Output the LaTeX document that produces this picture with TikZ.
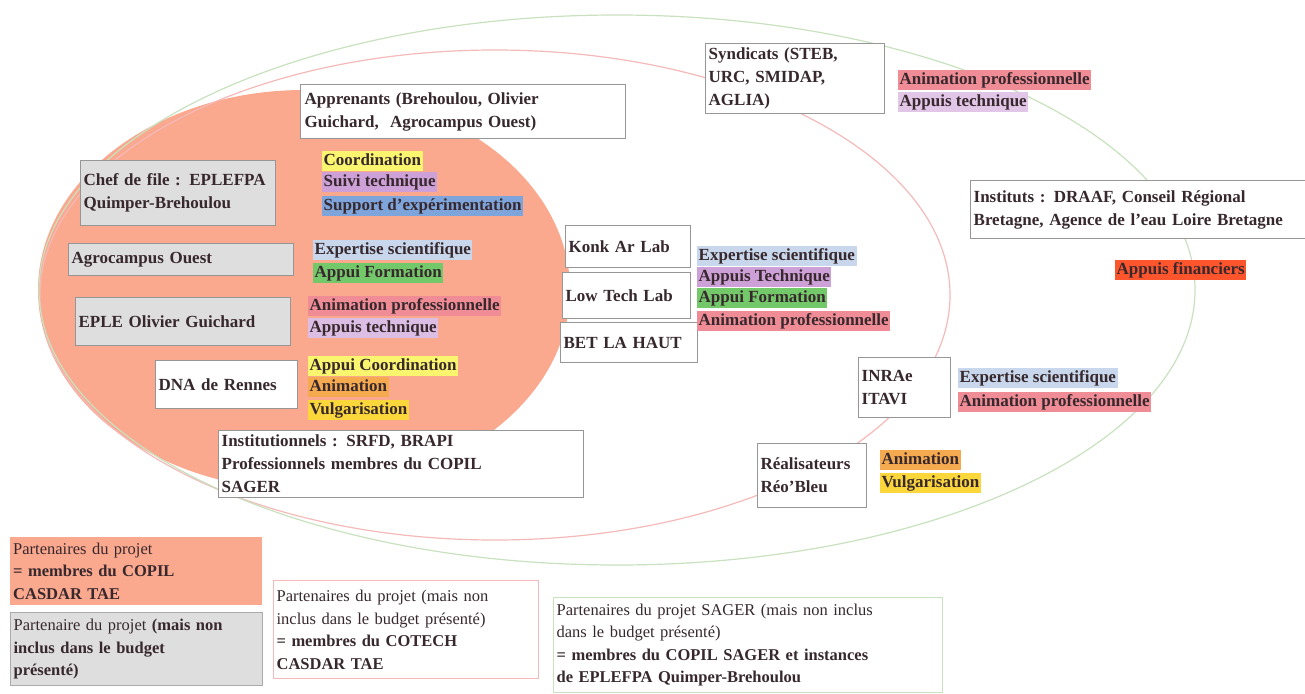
\documentclass[tikz,border=0pt]{standalone}
\usepackage{fontspec}
\setmainfont{Liberation Serif}
\newcommand\fsz{\fontsize{17}{23}\selectfont}
\newcommand\lfsz{\fontsize{16.5}{22.5}\selectfont}
\definecolor{salmon}{RGB}{250,168,142}
\definecolor{boxgray}{RGB}{222,222,222}
\definecolor{edgegray}{RGB}{150,150,150}
\definecolor{hlyellow}{RGB}{250,245,110}
\definecolor{hlpurple}{RGB}{205,160,215}
\definecolor{hlblue}{RGB}{125,165,220}
\definecolor{hllight}{RGB}{200,215,235}
\definecolor{hlgreen}{RGB}{115,200,105}
\definecolor{hlpink}{RGB}{240,140,150}
\definecolor{hlorange}{RGB}{245,170,80}
\definecolor{hlgold}{RGB}{252,215,60}
\definecolor{hlred}{RGB}{255,85,45}
\definecolor{txt}{RGB}{55,40,45}
\definecolor{ringpink}{RGB}{245,185,185}
\definecolor{ringgreen}{RGB}{200,225,190}
\tikzset{
  box/.style={draw=edgegray, line width=1.3pt, align=left, font=\fsz\bfseries, text=txt,
    inner xsep=3pt, inner ysep=2pt, anchor=north west},
  graybox/.style={box, fill=boxgray},
  whitebox/.style={box, fill=white},
  lab/.style={anchor=west, inner xsep=1.5pt, inner ysep=0pt, minimum height=20pt,
    font=\fsz\bfseries, text=txt, text height=12pt, text depth=3.5pt},
  legend/.style={align=left, text=txt, font=\lfsz, inner xsep=3pt, inner ysep=3pt, anchor=north west}
}
\begin{document}
\begin{tikzpicture}[x=1pt,y=-1pt]
\useasboundingbox (0,0) rectangle (1305,693);
% ellipses
\fill[salmon] (304,290) ellipse [x radius=266pt, y radius=200pt];
\draw[ringpink, line width=1.2pt] (495,295) ellipse [x radius=455pt, y radius=245pt];
\draw[ringgreen, line width=1.2pt] (617,290) ellipse [x radius=578pt, y radius=275pt];

% top box
\node[whitebox, minimum width=325pt, minimum height=54pt, text width=317pt] (appr) at (300,84)
  {Apprenants (Brehoulou, Olivier\\Guichard,~ Agrocampus Ouest)};

% chef de file
\node[graybox, minimum width=195pt, minimum height=65pt, text width=189pt] (chef) at (80,160)
  {Chef de file : EPLEFPA\\Quimper-Brehoulou};
\node[lab, fill=hlyellow] (l1) at (322,161) {Coordination};
\node[lab, fill=hlpurple] (l2) at (322,182) {Suivi technique};
\node[lab, fill=hlblue] (l3) at (322,206) {Support d'expérimentation};

% agrocampus
\node[graybox, minimum width=225pt, minimum height=32pt, text width=219pt] (agro) at (68,243)
  {Agrocampus Ouest};
\node[lab, fill=hllight] (l4) at (313,250) {Expertise scientifique};
\node[lab, fill=hlgreen] (l5) at (313,273) {Appui Formation};

% EPLE
\node[graybox, minimum width=215pt, minimum height=48pt, text width=209pt] (eple) at (75,297)
  {EPLE Olivier Guichard};
\node[lab, fill=hlpink] (l6) at (308,306) {Animation professionnelle};
\node[lab, fill=hlpurple!70] (l7) at (308,328) {Appuis technique};

% DNA
\node[whitebox, minimum width=142pt, minimum height=48pt, text width=136pt] (dna) at (155,360)
  {DNA de Rennes};
\node[lab, fill=hlyellow] (l8) at (308,366) {Appui Coordination};
\node[lab, fill=hlorange] (l9) at (308,387) {Animation};
\node[lab, fill=hlgold] (l10) at (308,410) {Vulgarisation};

% institutionnels
\node[whitebox, minimum width=365pt, minimum height=67pt, text width=359pt] (inst) at (218,430)
  {Institutionnels : SRFD, BRAPI\\Professionnels membres du COPIL\\SAGER};

% middle labs
\node[whitebox, minimum width=125pt, minimum height=42pt, text width=119pt] (konk) at (565,225)
  {Konk Ar Lab};
\node[whitebox, minimum width=128pt, minimum height=46pt, text width=122pt] (low) at (562,272)
  {Low Tech Lab};
\node[whitebox, minimum width=137pt, minimum height=40pt, text width=131pt] (bet) at (560,322)
  {BET LA HAUT};
\node[lab, fill=hllight] (l11) at (697,256) {Expertise scientifique};
\node[lab, fill=hlpurple] (l12) at (697,277) {Appuis Technique};
\node[lab, fill=hlgreen] (l13) at (697,298) {Appui Formation};
\node[lab, fill=hlpink] (l14) at (697,321) {Animation professionnelle};

% syndicats
\node[whitebox, minimum width=179pt, minimum height=70pt, text width=173pt] (synd) at (705,43)
  {Syndicats (STEB,\\URC, SMIDAP,\\AGLIA)};
\node[lab, fill=hlpink] (l15) at (898,80) {Animation professionnelle};
\node[lab, fill=hlpurple!60] (l16) at (898,102) {Appuis technique};

% instituts
\node[whitebox, minimum width=335pt, minimum height=58pt, text width=329pt] (instit) at (970,180)
  {Instituts : DRAAF, Conseil Régional\\Bretagne, Agence de l'eau Loire Bretagne};
\node[lab, fill=hlred] (l17) at (1115,270) {Appuis financiers};

% INRAe
\node[whitebox, minimum width=92pt, minimum height=60pt, text width=86pt] (inra) at (858,357)
  {INRAe\\ITAVI};
\node[lab, fill=hllight] (l18) at (958,378) {Expertise scientifique};
\node[lab, fill=hlpink] (l19) at (958,402) {Animation professionnelle};

% realisateurs
\node[whitebox, minimum width=109pt, minimum height=64pt, text width=103pt] (real) at (757,443)
  {Réalisateurs\\Réo'Bleu};
\node[lab, fill=hlorange] (l20) at (880,460) {Animation};
\node[lab, fill=hlgold] (l21) at (880,483) {Vulgarisation};

% legend
\node[legend, fill=salmon, minimum width=252pt, minimum height=68pt, text width=246pt] (leg1) at (10,537)
  {Partenaires du projet\\\textbf{= membres du COPIL}\\\textbf{CASDAR TAE}};
\node[legend, fill=boxgray, draw=edgegray!80, line width=1.2pt, minimum width=252pt, minimum height=73pt, text width=246pt] (leg2) at (10,612)
  {Partenaire du projet \textbf{(mais non}\\\textbf{inclus dans le budget}\\\textbf{présenté)}};
\node[legend, draw=ringpink, line width=1.2pt, minimum width=265pt, minimum height=98pt, text width=259pt] (leg3) at (273,580)
  {Partenaires du projet (mais non\\inclus dans le budget présenté)\\\textbf{= membres du COTECH}\\\textbf{CASDAR TAE}};
\node[legend, draw=ringgreen, line width=1.2pt, minimum width=389pt, minimum height=95pt, text width=383pt] (leg4) at (553,597)
  {Partenaires du projet SAGER (mais non inclus\\dans le budget présenté)\\\textbf{= membres du COPIL SAGER et instances}\\\textbf{de EPLEFPA Quimper-Brehoulou}};
\end{tikzpicture}
\end{document}
